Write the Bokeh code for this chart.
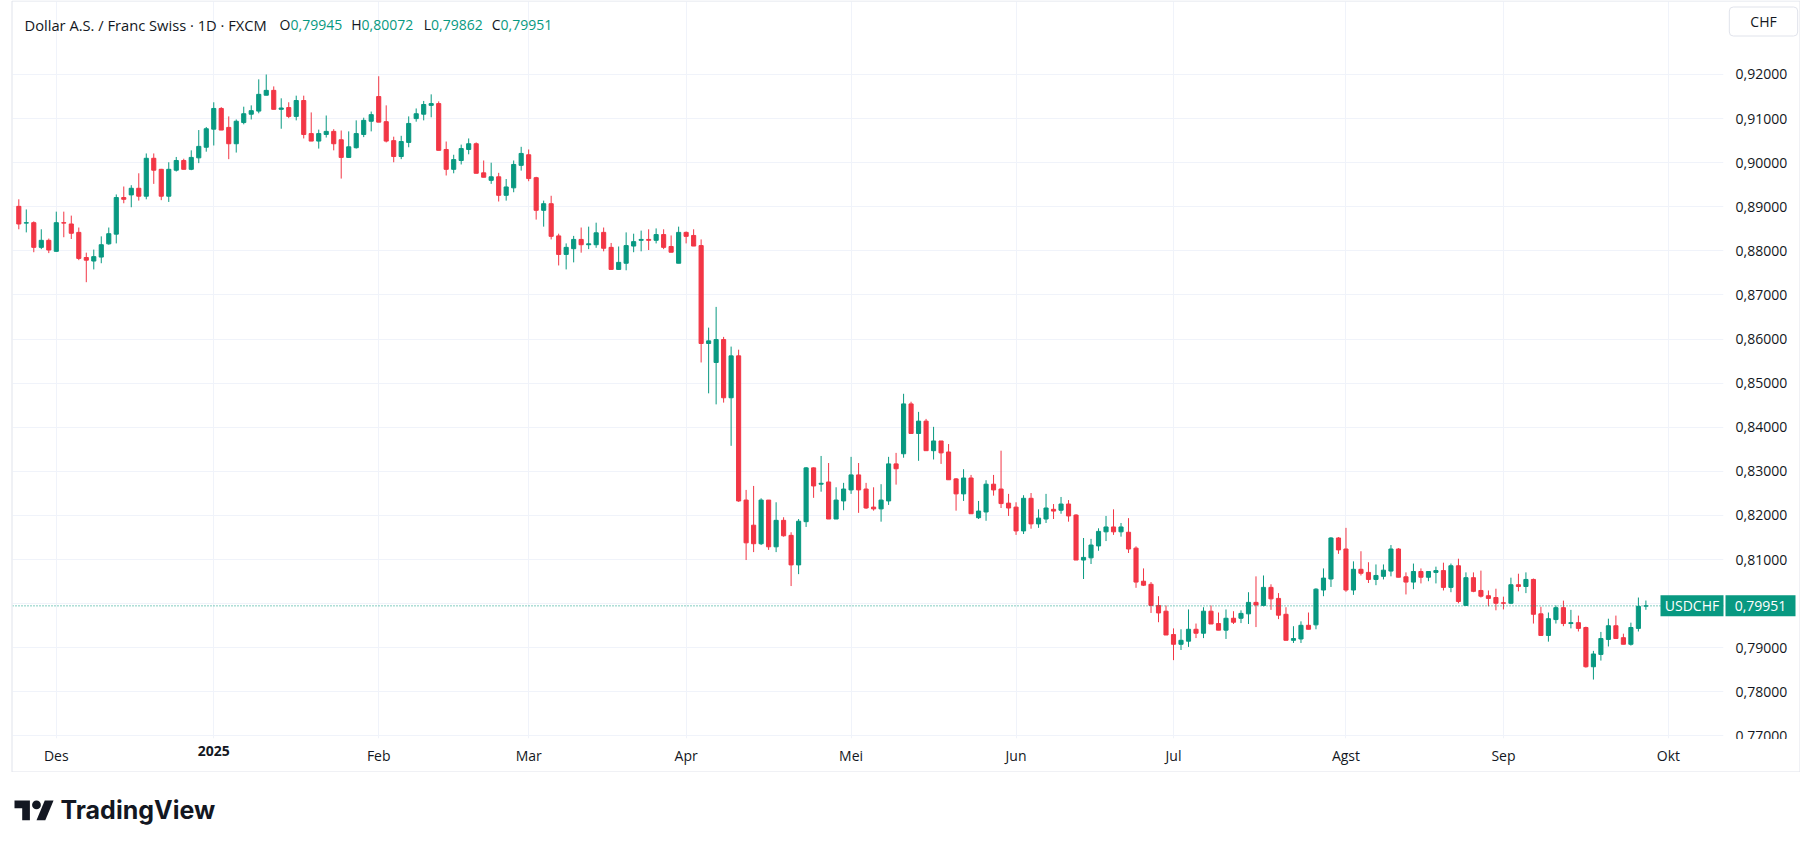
import pandas as pd
from bokeh.plotting import figure
from bokeh.models import (Range1d, FixedTicker, CustomJSTickFormatter, Span, Label,
                          ColumnDataSource, GridBox)
from bokeh.embed import file_html
from bokeh.resources import INLINE
from bokeh.core.properties import value

# ---------------- data ----------------
OPEN = [0.8901, 0.8863, 0.8864, 0.8808, 0.8824, 0.8799, 0.8864, 0.8861, 0.8842, 0.8785,
        0.8777, 0.8786, 0.8816, 0.8838, 0.8921, 0.8927, 0.8942, 0.8924, 0.9010, 0.8985,
        0.8924, 0.8983, 0.9005, 0.8985, 0.9011, 0.9035, 0.9076, 0.9123, 0.9080, 0.9043,
        0.9091, 0.9110, 0.9117, 0.9153, 0.9164, 0.9121, 0.9125, 0.9105, 0.9141, 0.9066,
        0.9049, 0.9064, 0.9071, 0.9052, 0.9012, 0.9034, 0.9064, 0.9094, 0.9150, 0.9093,
        0.9050, 0.9014, 0.9046, 0.9100, 0.9110, 0.9130, 0.9134, 0.9030, 0.8985, 0.9005,
        0.9030, 0.9043, 0.8977, 0.8960, 0.8968, 0.8926, 0.8943, 0.8994, 0.9018, 0.8966,
        0.8892, 0.8907, 0.8834, 0.8792, 0.8805, 0.8826, 0.8814, 0.8814, 0.8842, 0.8808,
        0.8758, 0.8772, 0.8811, 0.8824, 0.8826, 0.8824, 0.8837, 0.8810, 0.8772, 0.8842,
        0.8835, 0.8812, 0.8590, 0.8547, 0.8599, 0.8467, 0.8562, 0.8235, 0.8178, 0.8136,
        0.8235, 0.8129, 0.8189, 0.8155, 0.8088, 0.8186, 0.8308, 0.8271, 0.8276, 0.8192,
        0.8233, 0.8258, 0.8292, 0.8260, 0.8219, 0.8215, 0.8233, 0.8317, 0.8340, 0.8453,
        0.8386, 0.8414, 0.8347, 0.8369, 0.8344, 0.8283, 0.8249, 0.8285, 0.8195, 0.8208,
        0.8271, 0.8260, 0.8228, 0.8219, 0.8165, 0.8239, 0.8181, 0.8192, 0.8214, 0.8212,
        0.8226, 0.8201, 0.8099, 0.8104, 0.8131, 0.8163, 0.8174, 0.8163, 0.8162, 0.8126,
        0.8051, 0.8044, 0.7996, 0.7983, 0.7930, 0.7908, 0.7915, 0.7942, 0.7933, 0.7983,
        0.7955, 0.7940, 0.7967, 0.7967, 0.7977, 0.8003, 0.7996, 0.8037, 0.8012, 0.7976,
        0.7917, 0.7920, 0.7951, 0.7952, 0.8031, 0.8056, 0.8149, 0.8124, 0.8031, 0.8078,
        0.8071, 0.8055, 0.8062, 0.8074, 0.8124, 0.8061, 0.8049, 0.8073, 0.8060, 0.8071,
        0.8075, 0.8037, 0.8086, 0.7996, 0.8059, 0.8030, 0.8018, 0.8014, 0.8002, 0.8001,
        0.8043, 0.8039, 0.8055, 0.7977, 0.7928, 0.7964, 0.7991, 0.7955, 0.7957, 0.7946,
        0.7857, 0.7885, 0.7919, 0.7950, 0.7923, 0.7908, 0.7944, 0.79945]
HIGH = [0.8917, 0.8894, 0.8867, 0.8849, 0.8828, 0.8889, 0.8889, 0.8880, 0.8853, 0.8796,
        0.8803, 0.8833, 0.8853, 0.8928, 0.8946, 0.8949, 0.8976, 0.9021, 0.9021, 0.8986,
        0.9001, 0.9013, 0.9009, 0.9028, 0.9074, 0.9081, 0.9137, 0.9126, 0.9105, 0.9098,
        0.9127, 0.9130, 0.9189, 0.9200, 0.9173, 0.9146, 0.9137, 0.9152, 0.9152, 0.9114,
        0.9075, 0.9107, 0.9076, 0.9073, 0.9071, 0.9096, 0.9102, 0.9116, 0.9196, 0.9130,
        0.9059, 0.9061, 0.9105, 0.9123, 0.9140, 0.9155, 0.9139, 0.9048, 0.9018, 0.9041,
        0.9055, 0.9046, 0.9005, 0.9000, 0.8977, 0.8963, 0.9005, 0.9036, 0.9030, 0.8968,
        0.8914, 0.8925, 0.8839, 0.8817, 0.8834, 0.8853, 0.8855, 0.8864, 0.8853, 0.8818,
        0.8810, 0.8842, 0.8839, 0.8846, 0.8849, 0.8851, 0.8849, 0.8835, 0.8855, 0.8844,
        0.8849, 0.8826, 0.8626, 0.8673, 0.8605, 0.8583, 0.8576, 0.8258, 0.8267, 0.8239,
        0.8235, 0.8230, 0.8196, 0.8162, 0.8192, 0.8310, 0.8309, 0.8335, 0.8319, 0.8264,
        0.8274, 0.8333, 0.8319, 0.8274, 0.8264, 0.8271, 0.8333, 0.8342, 0.8476, 0.8458,
        0.8435, 0.8419, 0.8401, 0.8369, 0.8362, 0.8285, 0.8305, 0.8292, 0.8233, 0.8280,
        0.8292, 0.8347, 0.8249, 0.8230, 0.8246, 0.8251, 0.8214, 0.8249, 0.8226, 0.8242,
        0.8235, 0.8203, 0.8149, 0.8147, 0.8171, 0.8199, 0.8214, 0.8183, 0.8194, 0.8130,
        0.8080, 0.8049, 0.8017, 0.7996, 0.7944, 0.7942, 0.7987, 0.7955, 0.7992, 0.7996,
        0.7980, 0.7987, 0.7983, 0.7985, 0.8026, 0.8062, 0.8064, 0.8044, 0.8024, 0.7992,
        0.7949, 0.7960, 0.7980, 0.8035, 0.8080, 0.8151, 0.8151, 0.8172, 0.8096, 0.8119,
        0.8094, 0.8089, 0.8089, 0.8133, 0.8126, 0.8071, 0.8091, 0.8080, 0.8073, 0.8084,
        0.8093, 0.8091, 0.8102, 0.8071, 0.8071, 0.8075, 0.8030, 0.8034, 0.8016, 0.8059,
        0.8068, 0.8071, 0.8057, 0.7993, 0.7980, 0.7996, 0.8007, 0.7986, 0.7973, 0.7948,
        0.7893, 0.7936, 0.7966, 0.7973, 0.7932, 0.7957, 0.8014, 0.80072]
LOW = [0.8849, 0.8842, 0.8797, 0.8804, 0.8795, 0.8798, 0.8831, 0.8827, 0.8779, 0.8729,
       0.8758, 0.8772, 0.8814, 0.8817, 0.8908, 0.8899, 0.8914, 0.8917, 0.8952, 0.8915,
       0.8911, 0.8980, 0.8985, 0.8983, 0.8999, 0.9025, 0.9039, 0.9074, 0.9008, 0.9023,
       0.9087, 0.9098, 0.9112, 0.9153, 0.9121, 0.9077, 0.9101, 0.9096, 0.9055, 0.9049,
       0.9032, 0.9057, 0.9028, 0.8964, 0.9011, 0.9032, 0.9058, 0.9071, 0.9092, 0.9046,
       0.9001, 0.9008, 0.9035, 0.9093, 0.9096, 0.9103, 0.9028, 0.8971, 0.8976, 0.8996,
       0.9019, 0.8976, 0.8967, 0.8952, 0.8912, 0.8914, 0.8933, 0.8982, 0.8958, 0.8871,
       0.8855, 0.8826, 0.8767, 0.8758, 0.8774, 0.8796, 0.8804, 0.8807, 0.8799, 0.8758,
       0.8757, 0.8756, 0.8797, 0.8799, 0.8802, 0.8817, 0.8804, 0.8797, 0.8772, 0.8817,
       0.8811, 0.8547, 0.8477, 0.8452, 0.8456, 0.8358, 0.8231, 0.8099, 0.8117, 0.8133,
       0.8122, 0.8117, 0.8152, 0.8040, 0.8067, 0.8174, 0.8240, 0.8254, 0.8192, 0.8192,
       0.8212, 0.8249, 0.8206, 0.8215, 0.8211, 0.8186, 0.8224, 0.8270, 0.8331, 0.8386,
       0.8324, 0.8347, 0.8327, 0.8317, 0.8281, 0.8211, 0.8233, 0.8204, 0.8192, 0.8188,
       0.8245, 0.8217, 0.8199, 0.8156, 0.8158, 0.8170, 0.8172, 0.8183, 0.8192, 0.8204,
       0.8186, 0.8099, 0.8056, 0.8090, 0.8120, 0.8142, 0.8156, 0.8152, 0.8115, 0.8036,
       0.8040, 0.7979, 0.7958, 0.7929, 0.7872, 0.7895, 0.7902, 0.7922, 0.7922, 0.7954,
       0.7940, 0.7920, 0.7954, 0.7956, 0.7954, 0.7947, 0.7994, 0.7986, 0.7965, 0.7917,
       0.7911, 0.7911, 0.7942, 0.7942, 0.8017, 0.8038, 0.8113, 0.8027, 0.8020, 0.8064,
       0.8047, 0.8042, 0.8055, 0.8062, 0.8060, 0.8021, 0.8033, 0.8046, 0.8051, 0.8046,
       0.8030, 0.8026, 0.8001, 0.7996, 0.8026, 0.8014, 0.7994, 0.7985, 0.7987, 0.7999,
       0.8028, 0.8024, 0.7955, 0.7928, 0.7914, 0.7955, 0.7949, 0.7944, 0.7937, 0.7855,
       0.7828, 0.7871, 0.7903, 0.7921, 0.7908, 0.7905, 0.7937, 0.79862]
CLOSE = [0.8861, 0.8864, 0.8808, 0.8824, 0.8802, 0.8864, 0.8863, 0.8840, 0.8783, 0.8779,
         0.8787, 0.8814, 0.8839, 0.8921, 0.8917, 0.8942, 0.8924, 0.9010, 0.8983, 0.8924,
         0.8985, 0.9005, 0.8985, 0.9012, 0.9037, 0.9077, 0.9123, 0.9074, 0.9043, 0.9094,
         0.9111, 0.9118, 0.9155, 0.9164, 0.9121, 0.9124, 0.9105, 0.9141, 0.9064, 0.9049,
         0.9066, 0.9071, 0.9043, 0.9012, 0.9036, 0.9066, 0.9096, 0.9109, 0.9092, 0.9049,
         0.9014, 0.9048, 0.9089, 0.9111, 0.9132, 0.9134, 0.9028, 0.8985, 0.9007, 0.9032,
         0.9043, 0.8976, 0.8967, 0.8968, 0.8926, 0.8945, 0.8996, 0.9021, 0.8964, 0.8892,
         0.8907, 0.8833, 0.8792, 0.8808, 0.8826, 0.8814, 0.8816, 0.8841, 0.8806, 0.8758,
         0.8774, 0.8812, 0.8821, 0.8826, 0.8824, 0.8837, 0.8808, 0.8797, 0.8842, 0.8833,
         0.8811, 0.8590, 0.8596, 0.8599, 0.8467, 0.8562, 0.8233, 0.8138, 0.8136, 0.8235,
         0.8129, 0.8189, 0.8154, 0.8088, 0.8187, 0.8308, 0.8267, 0.8273, 0.8192, 0.8235,
         0.8260, 0.8292, 0.8258, 0.8217, 0.8215, 0.8235, 0.8317, 0.8306, 0.8453, 0.8386,
         0.8414, 0.8347, 0.8369, 0.8342, 0.8281, 0.8249, 0.8285, 0.8204, 0.8210, 0.8271,
         0.8258, 0.8227, 0.8217, 0.8165, 0.8239, 0.8181, 0.8194, 0.8217, 0.8210, 0.8226,
         0.8199, 0.8099, 0.8105, 0.8133, 0.8164, 0.8174, 0.8163, 0.8174, 0.8124, 0.8049,
         0.8042, 0.7996, 0.7979, 0.7929, 0.7908, 0.7917, 0.7942, 0.7933, 0.7983, 0.7954,
         0.7940, 0.7967, 0.7958, 0.7978, 0.8003, 0.7997, 0.8037, 0.8011, 0.7974, 0.7917,
         0.7921, 0.7951, 0.7942, 0.8033, 0.8058, 0.8149, 0.8122, 0.8031, 0.8078, 0.8069,
         0.8055, 0.8064, 0.8076, 0.8124, 0.8060, 0.8049, 0.8073, 0.8060, 0.8073, 0.8075,
         0.8037, 0.8086, 0.8005, 0.8059, 0.8028, 0.8017, 0.8012, 0.8001, 0.8001, 0.8043,
         0.8039, 0.8055, 0.7976, 0.7928, 0.7966, 0.7991, 0.7955, 0.7957, 0.7944, 0.7857,
         0.7886, 0.7921, 0.7950, 0.7921, 0.7908, 0.7946, 0.7994, 0.79951]

FIRST_DAY = "2024-11-25"
LAST_TICK_DAY = "2025-10-01"
HOLIDAYS = ["2024-12-25", "2025-01-01"]          # no FXCM daily bar
MONTH_LABELS = {12: "Des", 1: "2025", 2: "Feb", 3: "Mar", 4: "Apr", 5: "Mei",
                6: "Jun", 7: "Jul", 8: "Agst", 9: "Sep", 10: "Okt"}
YEAR_MONTH = 1
PRICE_TICKS = [0.77, 0.78, 0.79, 0.80, 0.81, 0.82, 0.83, 0.84, 0.85, 0.86,
               0.87, 0.88, 0.89, 0.90, 0.91, 0.92]
LAST_PRICE = 0.79951
SYMBOL = "USDCHF"
CURRENCY = "CHF"
TITLE = "Dollar A.S. / Franc Swiss \u00b7 1D \u00b7 FXCM"
OHLC_KEYS = ["O", "H", "L", "C"]
OHLC_LAST = ["0,79945", "0,80072", "0,79862", "0,79951"]

# ---------------- style ----------------
GREEN = "#089981"
RED = "#F23645"
TEXT = "#131722"
GRID = "#F0F3FA"
BORDER = "#E0E3EB"
FONT = "Open Sans"
FS = "14px"

# ---------------- calendar / ticks ----------------
days = [d for d in pd.bdate_range(FIRST_DAY, LAST_TICK_DAY)
        if d.strftime("%Y-%m-%d") not in HOLIDAYS]
n = len(OPEN)
xs = list(range(n))
tick_pos, tick_lab = [], []
for i in range(1, len(days)):
    if days[i].month != days[i - 1].month:
        tick_pos.append(i)
        tick_lab.append(MONTH_LABELS[days[i].month])
year_pos = [t for t in tick_pos if days[t].month == YEAR_MONTH]

colors = [GREEN if c >= o else RED for o, c in zip(OPEN, CLOSE)]
src = ColumnDataSource(dict(
    x=xs, open=OPEN, high=HIGH, low=LOW, close=CLOSE,
    top=[max(o, c) for o, c in zip(OPEN, CLOSE)],
    bottom=[min(o, c) for o, c in zip(OPEN, CLOSE)],
    color=colors,
))

# ---------------- geometry (page pixels) ----------------
FW, FH = 1800, 772
FRAME_L, FRAME_R, FRAME_T, FRAME_B = 12, 1723, 1, 738
X0, X1 = -0.840, 227.35
Y0, Y1 = 0.769433, 0.936553


def x2px(x):
    return FRAME_L + (x - X0) / (X1 - X0) * (FRAME_R - FRAME_L)


def y2py(y):
    return FRAME_T + (Y1 - y) / (Y1 - Y0) * (FRAME_B - FRAME_T)


# ---------------- main chart ----------------
p = figure(width=FW, height=FH, x_range=Range1d(X0, X1), y_range=Range1d(Y0, Y1),
           output_backend="svg", toolbar_location=None, y_axis_location="right",
           min_border_left=FRAME_L, min_border_right=FW - FRAME_R,
           min_border_top=FRAME_T, min_border_bottom=FH - FRAME_B,
           background_fill_color="white", border_fill_color="white",
           outline_line_color=None)

xt = FixedTicker(ticks=tick_pos)
yt = FixedTicker(ticks=PRICE_TICKS)
p.xaxis.ticker = xt
p.xgrid.ticker = xt
p.yaxis.ticker = yt
p.ygrid.ticker = yt
p.xaxis.major_label_overrides = {pos: ("" if pos in year_pos else lab)
                                 for pos, lab in zip(tick_pos, tick_lab)}
p.yaxis.formatter = CustomJSTickFormatter(code="return tick.toFixed(5).replace('.', ',');")
for ax in (p.xaxis, p.yaxis):
    ax.axis_line_color = None
    ax.major_tick_line_color = None
    ax.minor_tick_line_color = None
    ax.major_tick_out = 0
    ax.major_tick_in = 0
    ax.major_label_text_font = FONT
    ax.major_label_text_font_size = FS
    ax.major_label_text_color = TEXT
p.yaxis.major_label_standoff = 12
p.xaxis.major_label_standoff = 7
p.xgrid.grid_line_color = GRID
p.ygrid.grid_line_color = GRID

p.segment(x0="x", y0="low", x1="x", y1="high", line_color="color", line_width=1, source=src)
p.vbar(x="x", width=0.55, top="top", bottom="bottom", fill_color="color",
       line_color="color", line_width=1, source=src)

p.add_layout(Span(location=LAST_PRICE, dimension="width", line_color=GREEN,
                  line_dash="1 2", line_width=1))

# ---------------- transparent overlay (page-pixel coordinates) ----------------
o = figure(width=FW, height=FH, x_range=Range1d(0, FW), y_range=Range1d(FH, 0),
           output_backend="svg", toolbar_location=None, min_border=0,
           x_axis_location=None, y_axis_location=None,
           background_fill_color=None, border_fill_color=None, outline_line_color=None)
o.frame_align = False
o.grid.visible = False

# price scale clips its lowest label at the pane bottom
o.quad(left=[FRAME_R + 1], right=[FW - 1], top=[FRAME_B + 0.5], bottom=[FRAME_B + 12],
       fill_color="white", line_color=None)
# outer frame of the snapshot
o.quad(left=[FRAME_L - 0.5], right=[FW - 0.5], top=[0.5], bottom=[FH - 0.5],
       fill_color=None, line_color=BORDER, line_width=1)

# last-price marker: symbol tag inside the pane, value tag on the price scale
py = y2py(LAST_PRICE)
o.quad(left=[FRAME_R - 63], right=[FRAME_R], top=[py - 10.5], bottom=[py + 10.5],
       fill_color=GREEN, line_color=None)
o.quad(left=[FRAME_R + 2], right=[FRAME_R + 72], top=[py - 10.5], bottom=[py + 10.5],
       fill_color=GREEN, line_color=None)
o.text(x=[FRAME_R - 31.5, FRAME_R + 37], y=[py, py],
       text=[SYMBOL, f"{LAST_PRICE:.5f}".replace(".", ",")],
       text_align="center", text_baseline="middle", text_color="white",
       text_font=value(FONT), text_font_size=FS)

# currency button
o.add_layout(Label(x=1763, y=21, text=CURRENCY, text_align="center", text_baseline="middle",
                   text_color=TEXT, text_font=FONT, text_font_size=FS,
                   background_fill_color="white", border_line_color=BORDER,
                   padding=(21, 5), border_radius=4))

# bold year label on the time axis
for pos in year_pos:
    o.text(x=[x2px(pos)], y=[FRAME_B + 7], text=[tick_lab[tick_pos.index(pos)]],
           text_align="center", text_baseline="top", text_color=TEXT,
           text_font=value(FONT), text_font_size=FS, text_font_style="bold")

# legend line
HY = 24
o.text(x=[24], y=[HY], text=[TITLE], text_align="left", text_baseline="middle",
       text_color=TEXT, text_font=value(FONT), text_font_size="14.7px")
VAL_X = [290, 361, 430.5, 500]
o.text(x=VAL_X, y=[HY] * 4, text=OHLC_KEYS, text_align="right", text_baseline="middle",
       text_color=TEXT, text_font=value(FONT), text_font_size=FS)
o.text(x=VAL_X, y=[HY] * 4, text=OHLC_LAST, text_align="left", text_baseline="middle",
       text_color=GREEN, text_font=value(FONT), text_font_size=FS)

# ---------------- logo strip ----------------
q = figure(width=FW, height=60, x_range=Range1d(0, FW), y_range=Range1d(60, 0),
           output_backend="svg", toolbar_location=None, min_border=0,
           x_axis_location=None, y_axis_location=None,
           outline_line_color=None, background_fill_color="white", border_fill_color="white")
q.frame_align = False
q.grid.visible = False
s, ox, oy = 1.1, 14, 23.6
part1 = [(0, 4), (14, 4), (14, 22), (7, 22), (7, 11), (0, 11)]
part3 = [(28, 22), (20, 22), (27.5, 4), (35.5, 4)]
q.patches(xs=[[ox + s * a for a, b in part1], [ox + s * a for a, b in part3]],
          ys=[[oy + s * b for a, b in part1], [oy + s * b for a, b in part3]],
          fill_color=TEXT, line_color=None)
q.circle(x=[ox + s * 20], y=[oy + s * 8], radius=s * 4, fill_color=TEXT, line_color=None)
q.text(x=[60], y=[37], text=["TradingView"], text_font=value("Inter"), text_font_style="bold",
       text_font_size="25px", text_baseline="middle", text_color=TEXT)

layout = GridBox(children=[(p, 0, 0), (o, 0, 0), (q, 1, 0)])
open("out.html", "w").write(file_html(layout, INLINE))
